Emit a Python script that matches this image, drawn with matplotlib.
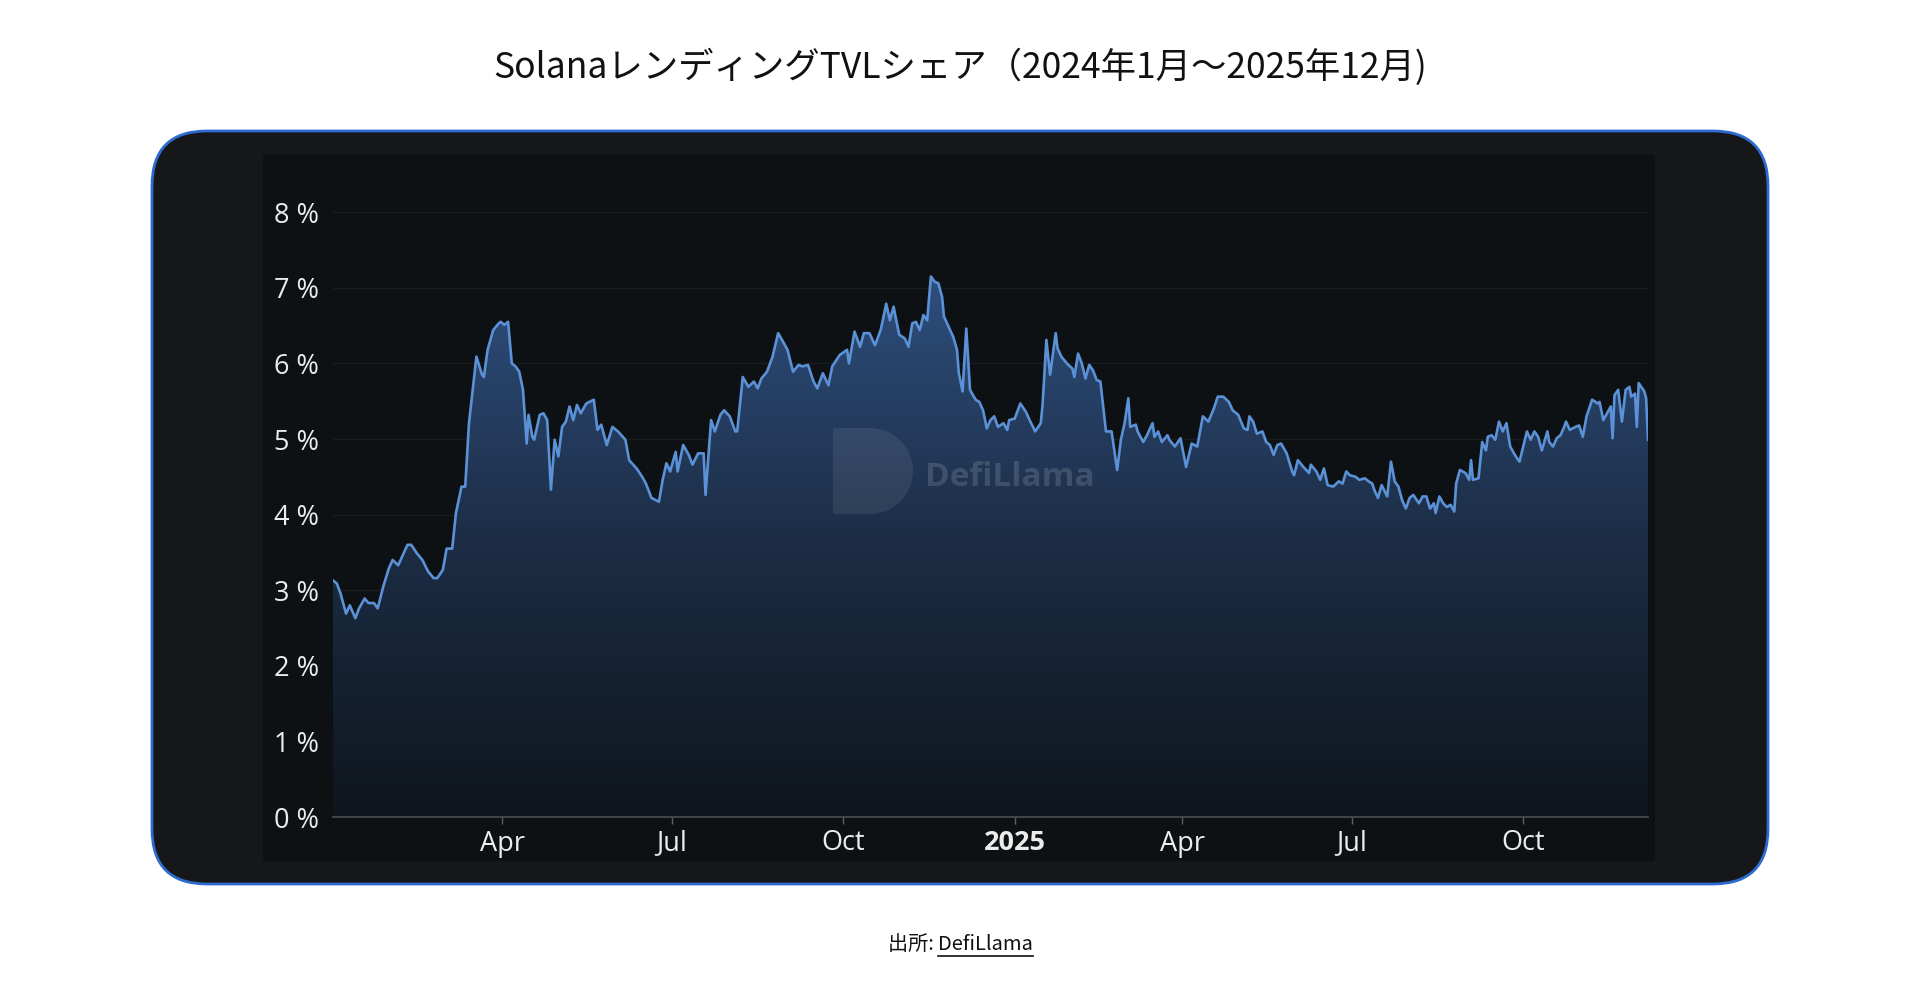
import numpy as np
import pandas as pd
import matplotlib
matplotlib.use("Agg")
import matplotlib.pyplot as plt
import matplotlib.dates as mdates
from matplotlib.colors import LinearSegmentedColormap
from matplotlib.patches import FancyBboxPatch, PathPatch
from matplotlib.path import Path

# days since 2024-01-01 and Solana lending TVL share (%)
day_offset = [
    0, 2, 4, 7, 9, 12, 14, 17, 19, 22, 24, 27, 30, 32, 35, 38, 40, 42, 45, 48,
    51, 54, 56, 59, 61, 64, 66, 69, 71, 73, 75, 77, 79, 80, 81, 83, 86, 89, 90, 92,
    94, 96, 98, 100, 102, 104, 105, 107, 108, 111, 113, 115, 117, 119, 121, 123, 125, 127, 129, 131,
    133, 136, 140, 142, 144, 147, 150, 153, 157, 159, 163, 166, 168, 171, 175, 177, 179, 181, 184, 185,
    188, 191, 193, 196, 199, 200, 203, 205, 208, 210, 213, 216, 217, 220, 223, 226, 228, 230, 233, 236,
    239, 242, 244, 247, 250, 252, 255, 258, 260, 263, 266, 268, 272, 276, 277, 280, 283, 285, 288, 291,
    294, 295, 297, 299, 301, 302, 304, 307, 309, 311, 313, 315, 317, 319, 321, 323, 325, 327, 328, 331,
    333, 335, 336, 338, 340, 342, 345, 347, 349, 351, 353, 355, 357, 360, 362, 363, 366, 369, 372, 374,
    377, 380, 381, 383, 385, 388, 389, 391, 394, 397, 398, 400, 402, 404, 406, 408, 410, 412, 415, 418,
    421, 423, 425, 427, 428, 431, 432, 435, 437, 440, 441, 443, 445, 448, 449, 452, 455, 458, 461, 464,
    467, 470, 473, 475, 478, 481, 483, 486, 489, 491, 492, 494, 496, 499, 501, 503, 505, 507, 509, 512,
    515, 516, 518, 521, 524, 525, 528, 530, 532, 534, 537, 540, 542, 544, 546, 549, 551, 554, 556, 558,
    559, 561, 563, 566, 568, 570, 572, 574, 576, 578, 580, 583, 585, 587, 589, 591, 592, 594, 596, 598,
    600, 602, 603, 605, 608, 610, 611, 612, 615, 617, 619, 620, 622, 624, 626, 628, 630, 632, 635, 637,
    639, 641, 643, 645, 647, 649, 652, 653, 655, 657, 659, 661, 662, 664, 667, 669, 671, 673, 676, 679,
    680, 682, 684, 686, 687, 688, 690, 692, 694, 696, 697, 699, 700, 701, 704, 705, 706,
]
share_pct = [
    3.13, 3.09, 2.96, 2.69, 2.80, 2.63, 2.76, 2.89, 2.83, 2.83, 2.76, 3.05, 3.29, 3.40, 3.33, 3.49, 3.60, 3.60, 3.49, 3.40,
    3.25, 3.16, 3.16, 3.27, 3.55, 3.55, 4.02, 4.37, 4.37, 5.21, 5.65, 6.09, 5.93, 5.85, 5.82, 6.18, 6.44, 6.53, 6.55, 6.51,
    6.55, 6.00, 5.96, 5.89, 5.65, 4.94, 5.32, 5.03, 4.99, 5.32, 5.34, 5.25, 4.33, 4.99, 4.77, 5.16, 5.23, 5.43, 5.25, 5.45,
    5.34, 5.47, 5.52, 5.12, 5.19, 4.92, 5.16, 5.10, 4.99, 4.72, 4.61, 4.50, 4.41, 4.22, 4.17, 4.46, 4.68, 4.57, 4.83, 4.57,
    4.92, 4.79, 4.66, 4.81, 4.81, 4.26, 5.25, 5.10, 5.32, 5.38, 5.30, 5.10, 5.10, 5.82, 5.69, 5.76, 5.67, 5.80, 5.89, 6.09,
    6.40, 6.27, 6.18, 5.89, 5.98, 5.96, 5.98, 5.76, 5.67, 5.87, 5.71, 5.96, 6.11, 6.18, 6.00, 6.42, 6.22, 6.40, 6.40, 6.24,
    6.44, 6.55, 6.79, 6.57, 6.75, 6.62, 6.38, 6.33, 6.22, 6.53, 6.55, 6.44, 6.64, 6.57, 7.15, 7.08, 7.06, 6.88, 6.62, 6.46,
    6.35, 6.18, 5.87, 5.63, 6.46, 5.65, 5.52, 5.49, 5.38, 5.14, 5.25, 5.30, 5.16, 5.21, 5.12, 5.25, 5.27, 5.47, 5.36, 5.25,
    5.10, 5.21, 5.47, 6.31, 5.85, 6.40, 6.20, 6.09, 6.00, 5.93, 5.82, 6.13, 6.00, 5.80, 5.98, 5.91, 5.78, 5.76, 5.10, 5.10,
    4.59, 4.99, 5.21, 5.54, 5.16, 5.19, 5.10, 4.96, 5.05, 5.21, 5.03, 5.10, 4.96, 5.05, 4.99, 4.90, 5.01, 4.63, 4.94, 4.90,
    5.30, 5.23, 5.41, 5.56, 5.56, 5.49, 5.38, 5.32, 5.14, 5.12, 5.30, 5.23, 5.07, 5.10, 4.96, 4.92, 4.79, 4.92, 4.94, 4.81,
    4.57, 4.52, 4.72, 4.63, 4.55, 4.66, 4.57, 4.46, 4.61, 4.39, 4.37, 4.44, 4.41, 4.57, 4.52, 4.50, 4.46, 4.48, 4.44, 4.41,
    4.33, 4.22, 4.39, 4.24, 4.70, 4.44, 4.37, 4.19, 4.08, 4.22, 4.26, 4.15, 4.24, 4.24, 4.08, 4.15, 4.02, 4.24, 4.15, 4.10,
    4.13, 4.04, 4.41, 4.59, 4.55, 4.46, 4.72, 4.46, 4.48, 4.96, 4.85, 5.03, 5.05, 4.99, 5.23, 5.10, 5.21, 4.90, 4.77, 4.70,
    4.90, 5.10, 4.99, 5.10, 5.03, 4.85, 5.10, 4.96, 4.90, 5.01, 5.05, 5.16, 5.23, 5.12, 5.16, 5.18, 5.03, 5.30, 5.52, 5.47,
    5.49, 5.25, 5.34, 5.43, 5.01, 5.58, 5.65, 5.23, 5.65, 5.69, 5.56, 5.60, 5.16, 5.74, 5.63, 5.54, 4.99,
]
y_ticks = [0, 1, 2, 3, 4, 5, 6, 7, 8]
x_tick_dates = ["2024-04-01", "2024-07-01", "2024-10-01", "2025-01-01",
                "2025-04-01", "2025-07-01", "2025-10-01"]
x_tick_labels = ["Apr", "Jul", "Oct", "2025", "Apr", "Jul", "Oct"]

title = "Solanaレンディング TVLシェア（2024年1月〜2025年12月)".replace(" ", "")
source = "DefiLlama"

plt.rcParams['font.family'] = ['Open Sans', 'Noto Sans CJK JP', 'DejaVu Sans']

W, H = 1920, 1001
fig = plt.figure(figsize=(W / 100, H / 100), dpi=100, facecolor='white')

# dark rounded card and inner panel (pixel coords)
card = FancyBboxPatch((152, H - 884), 1768 - 152, 884 - 131,
                      boxstyle="round,pad=0,rounding_size=55",
                      facecolor='#161718', edgecolor='#2d6bd0', linewidth=2.0,
                      transform=None, zorder=-3)
fig.add_artist(card)
panel = plt.Rectangle((263, H - 861), 1655 - 263, 861 - 155,
                      facecolor='#0e1114', edgecolor='none', transform=None, zorder=-2)
fig.add_artist(panel)

ymax = 8.5
ax = fig.add_axes([333 / W, (H - 817) / H, (1648 - 333) / W, ymax * 75.6 / H])
ax.set_facecolor('none')

dates = pd.Timestamp("2024-01-01") + pd.to_timedelta(day_offset, unit='D')
xnum = mdates.date2num(dates)
vals = np.array(share_pct)

# gradient fill under the curve
poly = ax.fill_between(xnum, vals, 0, facecolor='none', edgecolor='none')
cmap = LinearSegmentedColormap.from_list('fill', ['#0f151d', '#1c2d45', '#2f5080'])
grad = np.linspace(0, 1, 256).reshape(-1, 1)
im = ax.imshow(grad, extent=[xnum[0], xnum[-1], 0, 7.3], origin='lower',
               aspect='auto', cmap=cmap, zorder=1)
im.set_clip_path(poly.get_paths()[0], transform=ax.transData)

ax.plot(xnum, vals, color='#5b91d6', linewidth=1.9, zorder=3)

ax.set_xlim(xnum[0], xnum[-1])
ax.set_ylim(0, ymax)
ax.set_yticks(y_ticks)
ax.set_yticklabels([f"{v} %" for v in y_ticks])
ax.set_xticks(mdates.date2num(pd.to_datetime(x_tick_dates)))
ax.set_xticklabels(x_tick_labels)
for lbl in ax.get_xticklabels():
    if lbl.get_text() == "2025":
        lbl.set_fontweight('bold')

ax.tick_params(axis='y', length=0, pad=10, labelsize=19.5, labelcolor='#ececec')
ax.tick_params(axis='x', length=5, width=1, color='#5a5f66', pad=4,
               labelsize=19.5, labelcolor='#ececec')
ax.grid(axis='y', color='#181c21', linewidth=1)
ax.set_axisbelow(True)
for s in ['top', 'right', 'left']:
    ax.spines[s].set_visible(False)
ax.spines['bottom'].set_color('#4a4f56')
ax.spines['bottom'].set_linewidth(1.2)
ax.spines['bottom'].set_zorder(4)

# DefiLlama watermark
t = np.linspace(np.pi / 2, -np.pi / 2, 40)
cx, cy, r = 870, H - 471, 43
xs = np.concatenate([[833, 833], cx + r * np.cos(t), [833]])
ys = np.concatenate([[cy - r, cy + r], cy + r * np.sin(t), [cy - r]])
logo = PathPatch(Path(np.column_stack([xs, ys])), facecolor='white', alpha=0.08,
                 edgecolor='none', transform=None, zorder=2)
fig.add_artist(logo)
fig.text(925 / W, 1 - 477 / H, "DefiLlama", fontsize=24, fontweight='bold',
         color='white', alpha=0.14, ha='left', va='center', zorder=2,
         family=['Open Sans'])

fig.text(0.5, 1 - 67 / H, title, ha='center', va='center', fontsize=25.5,
         color='#111111', family=['Noto Sans CJK JP', 'DejaVu Sans'])

xs_split = 938 / W
fig.text(xs_split, 1 - 944 / H, "出所: ", ha='right', va='center', fontsize=14.5,
         color='#111111', family=['Noto Sans CJK JP', 'DejaVu Sans'])
src = fig.text(xs_split, 1 - 944 / H, source, ha='left', va='center', fontsize=14.5,
               color='#111111', family=['Noto Sans CJK JP', 'DejaVu Sans'])
fig.canvas.draw()
bb = src.get_window_extent()
fig.add_artist(plt.Line2D([bb.x0, bb.x1], [H - 956, H - 956], color='#111111',
                          linewidth=1.2, transform=None))

fig.savefig("out.png", dpi=100, facecolor='white')
